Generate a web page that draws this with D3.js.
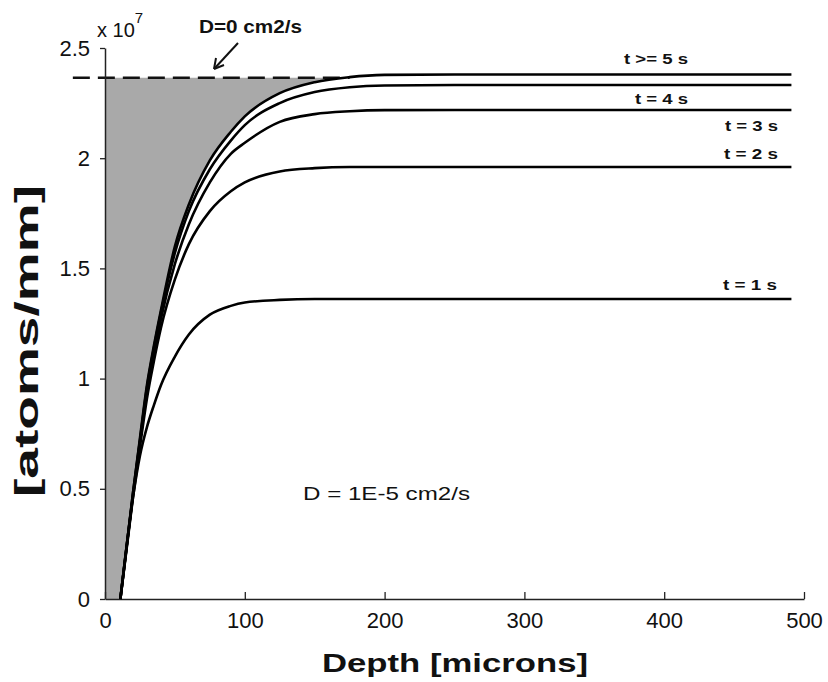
<!DOCTYPE html>
<html>
<head>
<meta charset="utf-8">
<script src="https://cdn.jsdelivr.net/npm/d3@7"></script>
<style>
  body { margin: 0; background: #fff; }
  text { font-family: "Liberation Sans", Arial, sans-serif; fill: #111; }
</style>
</head>
<body>
<script>
var width = 828, height = 682;

// depth in microns, values in units of 1e7 atoms/mm
var depth = [11, 20, 25, 30, 35, 40, 50, 60, 75, 90, 100, 125, 150, 175, 200, 250, 491];
var t5 = [0, 0.48, 0.73, 0.97, 1.15, 1.31, 1.60, 1.79, 1.99, 2.12, 2.19, 2.295, 2.345, 2.368, 2.378, 2.38, 2.38];
var t4 = [0, 0.48, 0.72, 0.96, 1.14, 1.30, 1.57, 1.76, 1.95, 2.08, 2.15, 2.25, 2.30, 2.322, 2.33, 2.332, 2.332];
var t3 = [0, 0.47, 0.71, 0.94, 1.11, 1.27, 1.52, 1.70, 1.89, 2.02, 2.07, 2.165, 2.20, 2.213, 2.218, 2.219, 2.219];
var t2 = [0, 0.46, 0.69, 0.91, 1.08, 1.23, 1.45, 1.61, 1.76, 1.85, 1.89, 1.94, 1.955, 1.96, 1.96, 1.96, 1.96];
var t1 = [0, 0.46, 0.65, 0.78, 0.88, 0.97, 1.10, 1.20, 1.29, 1.33, 1.345, 1.357, 1.361, 1.361, 1.361, 1.361, 1.361];
var seriesLabels = ["t >= 5 s", "t = 4 s", "t = 3 s", "t = 2 s", "t = 1 s"];
var seriesValues = [t5, t4, t3, t2, t1];
var noDiffusionLevel = 2.365;   // D=0 profile
var xTicks = [0, 100, 200, 300, 400, 500];
var yTicks = [0, 0.5, 1, 1.5, 2, 2.5];

var margin = {left: 105, top: 48, right: 24, bottom: 83};

var svg = d3.select("body").append("svg")
    .attr("width", width)
    .attr("height", height);

var x = d3.scaleLinear().domain([0, 500]).range([margin.left, width - margin.right]);
var y = d3.scaleLinear().domain([0, 2.5]).range([height - margin.bottom, margin.top]);

var line = d3.line()
    .x(function(d) { return x(d[0]); })
    .y(function(d) { return y(d[1]); })
    .curve(d3.curveMonotoneX);

function pts(vals) {
    return depth.map(function(dp, i) { return [dp, vals[i]]; });
}

// gray region: D=0 step profile minus the saturated profile
var fillPts = pts(t5).filter(function(d) { return d[0] <= 200; })
    .map(function(d) { return [d[0], Math.min(d[1], noDiffusionLevel)]; });
var fillPath = "M" + x(0) + "," + y(0) + line(fillPts).replace(/^M/, "L") +
    "L" + x(0) + "," + y(noDiffusionLevel) + "Z";
svg.append("path")
    .attr("d", fillPath)
    .attr("fill", "#a9a9a9");

// dashed D=0 line
svg.append("line")
    .attr("x1", x(-23)).attr("x2", x(175))
    .attr("y1", y(noDiffusionLevel)).attr("y2", y(noDiffusionLevel))
    .attr("stroke", "#111")
    .attr("stroke-width", 2.5)
    .attr("stroke-dasharray", "17,8");

// axes
var xAxis = d3.axisBottom(x).tickValues(xTicks).tickSizeInner(-7).tickSizeOuter(0).tickPadding(13);
var yAxis = d3.axisLeft(y).tickValues(yTicks).tickSizeInner(5).tickSizeOuter(0).tickPadding(10)
    .tickFormat(function(d) { return d; });

var gx = svg.append("g").attr("transform", "translate(0," + y(0) + ")").call(xAxis);
var gy = svg.append("g").attr("transform", "translate(" + x(0) + ",0)").call(yAxis);
[gx, gy].forEach(function(g) {
    g.select(".domain").attr("stroke", "#222").attr("stroke-width", 1.5);
    g.selectAll(".tick line").attr("stroke", "#222").attr("stroke-width", 1.3);
    g.selectAll(".tick text").attr("font-size", 22).attr("font-family", "Liberation Sans").attr("fill", "#111");
});

// curves
seriesValues.forEach(function(vals) {
    svg.append("path")
        .attr("d", line(pts(vals)))
        .attr("fill", "none")
        .attr("stroke", "#000")
        .attr("stroke-width", 2.6);
});

// series labels
var labelPos = [[624, 64, 64], [635, 104, 53], [725, 131, 53], [724, 159, 54], [723, 290, 54]];
seriesLabels.forEach(function(lbl, i) {
    svg.append("text")
        .attr("x", labelPos[i][0]).attr("y", labelPos[i][1])
        .attr("font-size", 15).attr("font-weight", "bold")
        .attr("textLength", labelPos[i][2]).attr("lengthAdjust", "spacingAndGlyphs")
        .text(lbl);
});

// annotations
svg.append("text")
    .attr("x", 199).attr("y", 33)
    .attr("font-size", 18).attr("font-weight", "bold")
    .attr("textLength", 103).attr("lengthAdjust", "spacingAndGlyphs")
    .text("D=0 cm2/s");

svg.append("line")
    .attr("x1", 238).attr("y1", 43).attr("x2", 214).attr("y2", 69)
    .attr("stroke", "#111").attr("stroke-width", 2);
svg.append("path")
    .attr("d", "M214,69 L216,58 M214,69 L224,65")
    .attr("stroke", "#111").attr("stroke-width", 2).attr("fill", "none");

svg.append("text")
    .attr("x", 303).attr("y", 500)
    .attr("font-size", 18)
    .attr("textLength", 167).attr("lengthAdjust", "spacingAndGlyphs")
    .text("D = 1E-5 cm2/s");

var ex = svg.append("text").attr("x", 97).attr("y", 37).attr("font-size", 20);
ex.append("tspan").text("x 10");
ex.append("tspan").attr("font-size", 15).attr("dy", -14).text("7");

// axis titles
svg.append("text")
    .attr("x", 322).attr("y", 672)
    .attr("font-size", 26).attr("font-weight", "bold")
    .attr("textLength", 266).attr("lengthAdjust", "spacingAndGlyphs")
    .text("Depth [microns]");

svg.append("text")
    .attr("transform", "translate(38,497) rotate(-90)")
    .attr("font-size", 34).attr("font-weight", "bold")
    .attr("textLength", 312).attr("lengthAdjust", "spacingAndGlyphs")
    .text("[atoms/mm]");
</script>
</body>
</html>
